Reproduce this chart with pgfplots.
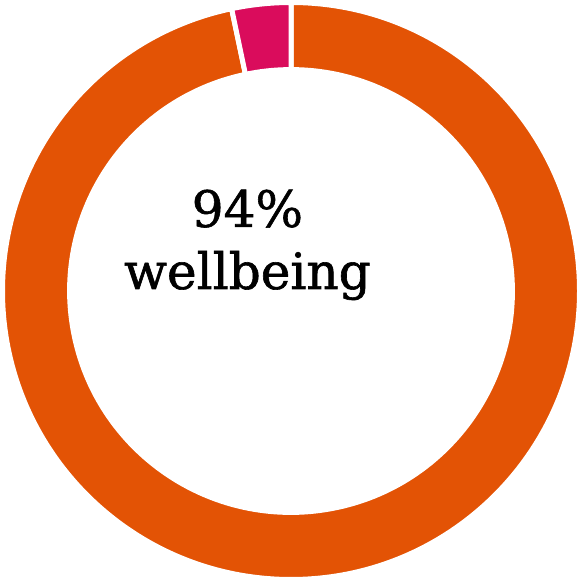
\documentclass[border=0pt]{standalone}
\usepackage{pgfplots}
\pgfplotsset{compat=1.18}
\usepackage{pgfplotstable}
\usepackage{fontspec}
\setmainfont{DejaVu Serif}[BoldFont={DejaVu Serif}, BoldFeatures={FakeBold=1.2}]
\definecolor{segorange}{RGB}{227,83,5}
\definecolor{segpink}{RGB}{218,12,92}

% share of the ring, in percent, clockwise from 12 o'clock
\pgfplotstableread{
label value
wellbeing 96.7
other 3.3
}\ringdata

\begin{document}
\begin{tikzpicture}
\begin{axis}[
  scale only axis,
  width=288.5pt, height=291pt,
  xmin=0, xmax=577, ymin=0, ymax=582,
  hide axis,
  clip=false,
]
\pgfplotstablegetelem{0}{value}\of\ringdata
\pgfmathsetmacro{\va}{\pgfplotsretval}
\pgfplotstablegetelem{1}{value}\of\ringdata
\pgfmathsetmacro{\vb}{\pgfplotsretval}
\def\cx{290.5}\def\cy{291}\def\R{288}\def\r{221}
\pgfmathsetmacro{\aA}{90}
\pgfmathsetmacro{\aB}{90-3.6*\va}
\pgfmathsetmacro{\aC}{\aB-3.6*\vb}
% first segment
\fill[segorange, draw=white, line width=2.5pt]
  (axis cs:{\cx+\R*cos(\aA)},{\cy+\R*sin(\aA)}) arc[start angle=\aA, end angle=\aB, radius=\R]
  -- (axis cs:{\cx+\r*cos(\aB)},{\cy+\r*sin(\aB)}) arc[start angle=\aB, end angle=\aA, radius=\r] -- cycle;
% second segment
\fill[segpink, draw=white, line width=2.5pt]
  (axis cs:{\cx+\R*cos(\aB)},{\cy+\R*sin(\aB)}) arc[start angle=\aB, end angle=\aC, radius=\R]
  -- (axis cs:{\cx+\r*cos(\aC)},{\cy+\r*sin(\aC)}) arc[start angle=\aC, end angle=\aB, radius=\r] -- cycle;
\node[align=center, font=\fontsize{25}{31}\selectfont\bfseries, inner sep=0pt]
  at (axis cs:247,337) {94\%\\wellbeing};
\end{axis}
\end{tikzpicture}
\end{document}
